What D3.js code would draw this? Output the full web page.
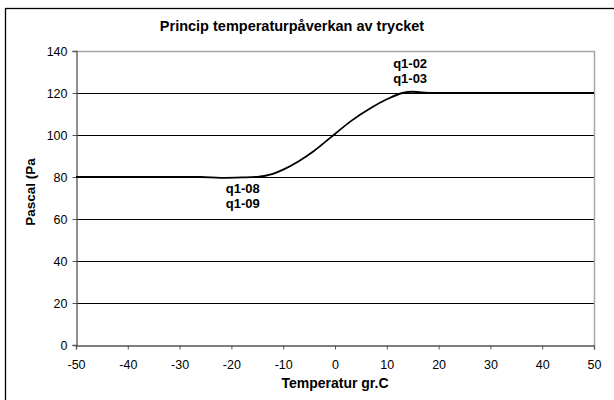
<!DOCTYPE html>
<html>
<head>
<meta charset="utf-8">
<script src="https://cdn.jsdelivr.net/npm/d3@7"></script>
<style>
  body { margin: 0; background: #fff; }
  text { font-family: "Liberation Sans", Arial, sans-serif; }
</style>
</head>
<body>
<div id="chart"></div>
<script>
// Curve (temperature, pressure)
let temps = [-50, -30, -26, -22, -18, -15, -12, -10, -7, -4, -1, 0, 3, 7, 10, 13, 15, 18, 20, 50];
let pascal = [80, 80, 80, 79.6, 79.8, 80.1, 81.5, 83.5, 87.5, 92.5, 98.5, 100.5, 106.5, 113, 117, 120, 120.6, 120.1, 120, 120];

let xTicks = [-50, -40, -30, -20, -10, 0, 10, 20, 30, 40, 50];
let yTicks = [0, 20, 40, 60, 80, 100, 120, 140];

// Point labels
let labelTemps = [-17.8, 14.5];
let labelValues = [80, 120];
let labelLines = [["q1-08", "q1-09"], ["q1-02", "q1-03"]];

let width = 614, height = 400;
let plotLeft = 76, plotRight = 594, plotTop = 51, plotBottom = 345;

let svg = d3.select("#chart").append("svg")
    .attr("width", width)
    .attr("height", height);

// outer chart border (runs past the image edge)
svg.append("rect")
    .attr("x", 5.5).attr("y", 8.5)
    .attr("width", 640).attr("height", 420)
    .attr("fill", "none")
    .attr("stroke", "#000")
    .attr("stroke-width", 1.3);

let x = d3.scaleLinear().domain([-50, 50]).range([plotLeft, plotRight]);
let y = d3.scaleLinear().domain([0, 140]).range([plotBottom, plotTop]);

// horizontal gridlines
svg.selectAll(".grid")
    .data(yTicks.filter(d => d > 0 && d < 140))
    .enter().append("line")
    .attr("x1", plotLeft).attr("x2", plotRight)
    .attr("y1", d => Math.round(y(d)) + 0.5)
    .attr("y2", d => Math.round(y(d)) + 0.5)
    .attr("stroke", "#000")
    .attr("stroke-width", 1);

// top and right frame (grey)
svg.append("path")
    .attr("d", `M${plotLeft},${plotTop + 0.5}H${plotRight + 0.5}V${plotBottom}`)
    .attr("fill", "none")
    .attr("stroke", "#a6a6a6")
    .attr("stroke-width", 1.5);

// axes (plain hyphen minus like the original)
let fmt = d => String(d);
let xAxis = d3.axisBottom(x).tickValues(xTicks).tickFormat(fmt).tickSize(4).tickPadding(11);
let yAxis = d3.axisLeft(y).tickValues(yTicks).tickFormat(fmt).tickSize(4).tickPadding(5);

let gx = svg.append("g")
    .attr("transform", `translate(0,${Math.round(plotBottom) + 0.5})`)
    .call(xAxis);
let gy = svg.append("g")
    .attr("transform", `translate(${plotLeft + 0.5},0)`)
    .call(yAxis);

[gx, gy].forEach(g => {
    g.select(".domain").attr("stroke", "#555").attr("stroke-width", 1.3);
    g.selectAll(".tick line").attr("stroke", "#555");
    g.selectAll(".tick text")
        .attr("fill", "#000")
        .style("font-size", "12.5px")
        .style("font-family", "Liberation Sans, Arial, sans-serif");
});

// the curve
let line = d3.line()
    .x((d, i) => x(temps[i]))
    .y(d => y(d))
    .curve(d3.curveMonotoneX);

svg.append("path")
    .datum(pascal)
    .attr("d", line)
    .attr("fill", "none")
    .attr("stroke", "#000")
    .attr("stroke-width", 1.8);

// point labels
labelLines.forEach((lines, i) => {
    let below = i === 0;
    let t = svg.append("text")
        .attr("text-anchor", "middle")
        .style("font-size", "13px")
        .style("font-weight", "bold");
    lines.forEach((s, j) => {
        t.append("tspan")
            .attr("x", x(labelTemps[i]))
            .attr("y", below ? y(labelValues[i]) + 16 + j * 15 : y(labelValues[i]) - 25 + j * 15)
            .text(s);
    });
});

// titles
svg.append("text")
    .attr("x", 292).attr("y", 31)
    .attr("text-anchor", "middle")
    .style("font-size", "14.5px")
    .style("font-weight", "bold")
    .text("Princip temperaturpåverkan av trycket");

svg.append("text")
    .attr("x", (plotLeft + plotRight) / 2).attr("y", 388)
    .attr("text-anchor", "middle")
    .style("font-size", "14px")
    .style("font-weight", "bold")
    .text("Temperatur gr.C");

svg.append("text")
    .attr("transform", `translate(35,${(plotTop + plotBottom) / 2 - 6}) rotate(-90)`)
    .attr("text-anchor", "middle")
    .style("font-size", "13.5px")
    .style("font-weight", "bold")
    .text("Pascal (Pa");
</script>
</body>
</html>
